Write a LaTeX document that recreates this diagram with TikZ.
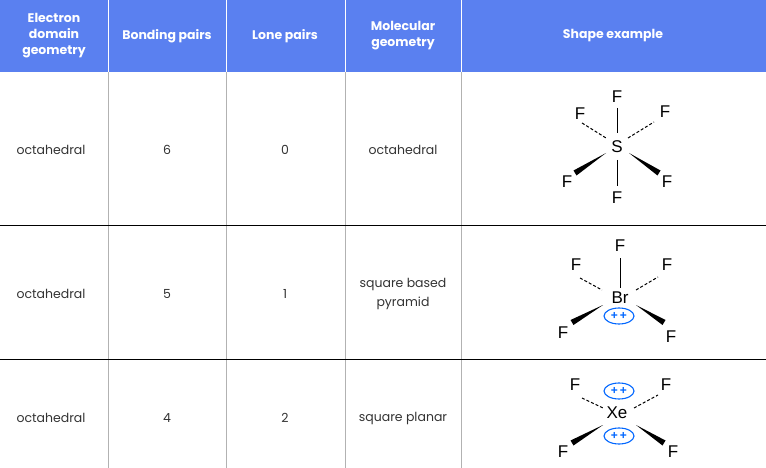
\documentclass[tikz,border=0pt]{standalone}
\usepackage{fontspec}
\usetikzlibrary{shapes.geometric}
\setmainfont{Poppins}
\newfontfamily\molfont{Liberation Sans}
\begin{document}
\begin{tikzpicture}[x=1pt,y=-1pt,
  hd/.style={font=\bfseries\fontsize{12.5}{16}\selectfont,text=white,align=center},
  cell/.style={font=\fontsize{12.5}{19}\selectfont,text=black!80,align=center},
  atom/.style={font=\molfont\fontsize{17}{17}\selectfont,inner sep=0pt},
  bond/.style={line width=1pt},
  dbond/.style={line width=1pt,dash pattern=on 3pt off 2pt},
  lp/.style={draw=blue!60!cyan,line width=1.1pt,ellipse,minimum width=30pt,minimum height=16pt,inner sep=0pt,font=\molfont\bfseries\fontsize{12}{12}\selectfont,text=blue!60!cyan}]
\useasboundingbox (0,0) rectangle (766,468);
\fill[fill={rgb,255:red,90;green,128;blue,240}] (0,0) rectangle (766,72);
\foreach \x in {108,226,345,461} {\draw[white,line width=0.6pt] (\x,0) -- (\x,72); \draw[gray!60,line width=0.5pt] (\x,72) -- (\x,468);}
\draw[black,line width=0.8pt] (0,225) -- (766,225);
\draw[black,line width=0.8pt] (0,359) -- (766,359);
\node[hd] (h1) at (54,36) {Electron\\domain\\geometry};
\node[hd] (h2) at (167,36) {Bonding pairs};
\node[hd] (h3) at (285,36) {Lone pairs};
\node[hd] (h4) at (403,36) {Molecular\\geometry};
\node[hd] (h5) at (613,36) {Shape example};
\node[cell] (a1) at (51,150) {octahedral};
\node[cell] (b1) at (167,150) {6};
\node[cell] (c1) at (285,150) {0};
\node[cell] (d1) at (403,150) {octahedral};
\node[cell] (a2) at (51,294) {octahedral};
\node[cell] (b2) at (167,294) {5};
\node[cell] (c2) at (285,294) {1};
\node[cell] (d2) at (403,294) {square based\\pyramid};
\node[cell] (a3) at (51,418) {octahedral};
\node[cell] (b3) at (167,418) {4};
\node[cell] (c3) at (285,418) {2};
\node[cell] (d3) at (403,418) {square planar};
% SF6
\node[atom] (s) at (617,147) {S};
\node[atom] (s1) at (617,97) {F};
\node[atom] (s2) at (580,114) {F};
\node[atom] (s3) at (665,112) {F};
\node[atom] (s4) at (567,182) {F};
\node[atom] (s5) at (667,182) {F};
\node[atom] (s6) at (617,198) {F};
\draw[bond] (617,108) -- (617,133);
\draw[bond] (617,160) -- (617,186);
\draw[dbond] (582,123) -- (606,138);
\draw[dbond] (628,138) -- (654,122);
\fill (606,153) -- (573.5,170.5) -- (576.5,175.5) -- cycle;
\fill (629,153) -- (657.5,175.5) -- (660.5,170.5) -- cycle;
% BrF5
\node[atom] (br) at (620,298) {Br};
\node[atom] (b1f) at (620,246) {F};
\node[atom] (b2f) at (576,265) {F};
\node[atom] (b3f) at (667,265) {F};
\node[atom] (b4f) at (563,333) {F};
\node[atom] (b5f) at (671,337) {F};
\draw[bond] (620,258) -- (620,288);
\draw[dbond] (580,278) -- (602,290);
\draw[dbond] (636,290) -- (658,277);
\fill (603,305) -- (570.5,320) -- (573.5,325) -- cycle;
\fill (636,305) -- (662.5,325) -- (665.5,320) -- cycle;
\node[lp] (lp1) at (619,316) {+\,+};
% XeF4
\node[atom] (xe) at (617,413) {Xe};
\node[atom] (x1) at (575,385) {F};
\node[atom] (x2) at (666,385) {F};
\node[atom] (x3) at (563,452) {F};
\node[atom] (x4) at (673,452) {F};
\draw[dbond] (582,398) -- (603,408);
\draw[dbond] (634,408) -- (658,395);
\fill (603,425) -- (570.5,440.5) -- (573.5,445.5) -- cycle;
\fill (636,425) -- (662.5,445.5) -- (665.5,440.5) -- cycle;
\node[lp] (lp2) at (619,391) {+\,+};
\node[lp] (lp3) at (619,436) {+\,+};
\end{tikzpicture}
\end{document}
